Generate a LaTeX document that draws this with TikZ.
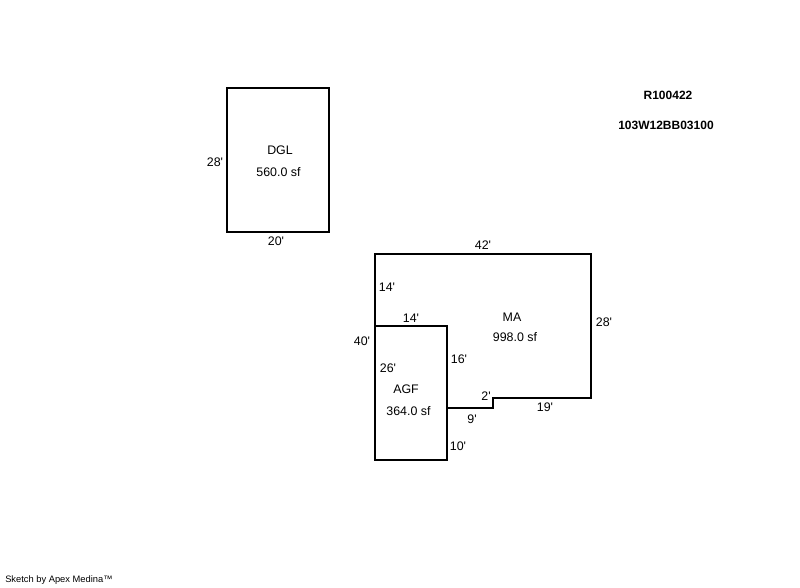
\documentclass[tikz,border=0pt]{standalone}
\usepackage{fontspec}
\setmainfont{Liberation Sans}[Ligatures=TeXOff]
\begin{document}
\begin{tikzpicture}[x=0.75pt,y=-0.75pt,
  wall/.style={line width=1.5pt,line join=miter,black},
  dim/.style={font=\fontsize{9.3pt}{11pt}\selectfont,inner sep=0pt},
  tag/.style={font=\fontsize{9pt}{11pt}\selectfont\bfseries,inner sep=0pt}]
\useasboundingbox (0,0) rectangle (800,587);

%garage
\draw[wall] (227,88) rectangle (329,232);
\node[dim] (dglname) at (280,150) {DGL};
\node[dim] (dglarea) at (278.5,172) {560.0 sf};
\node[dim] (dglside) at (215,162) {28'};
\node[dim] (dglbase) at (276,241) {20'};

%main area
\draw[wall] (447,408) -- (493,408) -- (493,398) -- (591,398) -- (591,254) -- (375,254) -- (375,326);
\node[dim] (maname) at (512,317) {MA};
\node[dim] (maarea) at (515,337) {998.0 sf};
\node[dim] (matop) at (483,245) {42'};
\node[dim] (maright) at (604,322) {28'};
\node[dim] (maleft) at (387,287) {14'};
\node[dim] (mainner) at (411,318) {14'};
\node[dim] (mastep) at (486,396) {2'};
\node[dim] (mabase) at (545,407) {19'};
\node[dim] (manotch) at (472,419) {9'};
\node[dim] (mawall) at (459,359) {16'};
\node[dim] (maouter) at (362,341) {40'};

%attached garage
\draw[wall] (375,326) rectangle (447,460);
\node[dim] (agfname) at (406,389) {AGF};
\node[dim] (agfarea) at (408.5,411) {364.0 sf};
\node[dim] (agfside) at (388,368) {26'};
\node[dim] (agfend) at (458,446) {10'};

%parcel numbers
\node[tag] (parcel) at (668,95) {R100422};
\node[tag] (mapno) at (666,125) {103W12BB03100};

\node[font=\fontsize{7pt}{8pt}\selectfont,inner sep=0pt,anchor=west] (credit) at (5,580) {Sketch by Apex Medina™};
\end{tikzpicture}
\end{document}
